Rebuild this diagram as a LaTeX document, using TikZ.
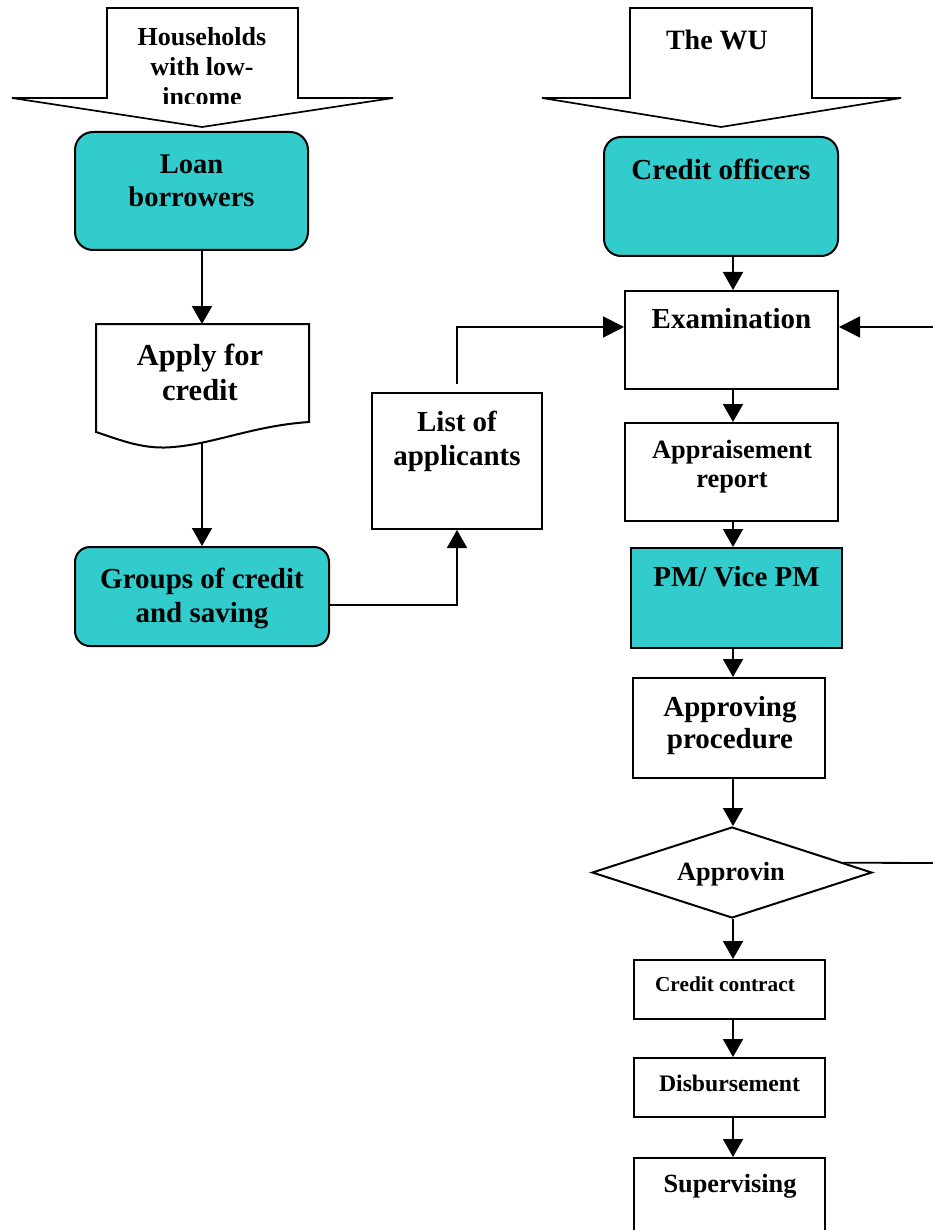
\documentclass[tikz,border=0pt]{standalone}
\usepackage{fontspec}
\setmainfont{Liberation Serif}
\usetikzlibrary{arrows.meta,shapes.geometric,calc}
\definecolor{tealfill}{RGB}{51,204,204}
\begin{document}
\begin{tikzpicture}[x=1pt,y=-1pt,
  txt/.style 2 args={font=\bfseries\fontsize{#1pt}{#2pt}\selectfont, align=center, inner sep=0pt},
  pbox/.style={draw, line width=2pt, fill=white, inner sep=0pt},
  tbox/.style={pbox, fill=tealfill},
  blockarrow/.style={draw, line width=1.7pt, fill=white, line join=miter},
  arr/.style={draw, line width=1.8pt, -{Triangle[width=20pt,length=18pt]}},
  arrw/.style={draw, line width=1.8pt, -{Triangle[width=21pt,length=21pt]}}]
\useasboundingbox (0,0) rectangle (933,1230);
\clip (0,0) rectangle (933,1230);
\fill[white] (0,0) rectangle (933,1230);

\coordinate (colL) at (202,0);
\coordinate (colR) at (733,0);

% block arrows
\draw[blockarrow] (107,8) -- (298,8) -- (298,98) -- (393,98) -- (202,127) -- (12,98) -- (107,98) -- cycle;
\begin{scope}
  \clip (107,8) rectangle (298,104);
  \node[txt={26}{30}] (house) at (202,67) {Households\\with low-\\income};
\end{scope}
\draw[blockarrow] (630,8) -- (812,8) -- (812,98) -- (901,98) -- (721,127) -- (542,98) -- (630,98) -- cycle;
\node[txt={28}{32}] (wu) at (717,40) {The WU};

% left column
\node[tbox, rounded corners=18pt, minimum width=233pt, minimum height=118pt] (loan) at (191.5,191) {};
\node[txt={28.5}{33}] (loant) at (191.5,181) {Loan\\borrowers};

\draw[pbox] (96,324) -- (309,324) -- (309,422)
  .. controls (250,426) and (210,446) .. (165,447.5)
  .. controls (140,448) and (120,440) .. (96,432) -- cycle;
\node[txt={30.5}{35}] (apply) at (200,372) {Apply for\\credit};
\coordinate (applyt) at (202,324);
\coordinate (applyb) at (202,443);

\node[tbox, rounded corners=15pt, minimum width=254pt, minimum height=99pt] (groups) at (202,596.5) {};
\node[txt={29}{34}] (groupst) at (202,598) {Groups of credit\\and saving};

\node[pbox, minimum width=170pt, minimum height=136pt] (list) at (457,461) {};
\node[txt={29}{34}] (listt) at (457,441) {List of\\applicants};

% right column
\node[tbox, rounded corners=17pt, minimum width=234pt, minimum height=119pt] (officers) at (721,196.5) {};
\node[txt={29}{33}] (officerst) at (721,169) {Credit officers};

\node[pbox, minimum width=213pt, minimum height=98pt] (exam) at (731.5,340) {};
\node[txt={29}{33}] (examt) at (731.5,319) {Examination};

\node[pbox, minimum width=213pt, minimum height=98pt] (appr) at (731.5,472) {};
\node[txt={26.4}{29}] (apprt) at (732,467) {Appraisement\\report};

\node[tbox, minimum width=211pt, minimum height=100pt] (pm) at (736.5,598) {};
\node[txt={29}{33}] (pmt) at (736.5,577) {PM/ Vice PM};

\node[pbox, minimum width=192pt, minimum height=100pt] (appp) at (729,728) {};
\node[txt={29}{32}] (apppt) at (730,726) {Approving\\procedure};

\node[draw, line width=2pt, fill=white, shape=diamond, shape aspect=3, inner sep=0pt,
      minimum width=280pt, minimum height=91pt] (dia) at (732,872.5) {};
\node[txt={26.3}{30}] (diat) at (731,874) {Approvin};

\node[pbox, minimum width=191pt, minimum height=59pt] (contract) at (729.5,989.5) {};
\node[txt={21.3}{25}] (contractt) at (725,984) {Credit contract};

\node[pbox, minimum width=191pt, minimum height=59pt] (disb) at (729.5,1087.5) {};
\node[txt={23.7}{27}] (disbt) at (729.5,1083) {Disbursement};

\node[pbox, minimum width=191pt, minimum height=142pt] (sup) at (729.5,1229) {};
\node[txt={26.3}{30}] (supt) at (730,1186) {Supervising};

% connectors left
\draw[arr] (loan.south -| colL) -- (applyt);
\draw[arr] (applyb) -- (groups.north -| colL);
\draw[arr] ([yshift=-8.5pt]groups.east) -| (list.south);
\draw[arrw] ([yshift=8pt]list.north) |- ([yshift=13pt]exam.west);

% connectors right
\coordinate (rin) at (940,327);
\draw[arrw] (rin) -- ([yshift=13pt]exam.east);
\draw[arr] (officers.south -| colR) -- (exam.north -| colR);
\draw[arr] (exam.south -| colR) -- (appr.north -| colR);
\draw[arr] (appr.south -| colR) -- (pm.north -| colR);
\draw[arr] (pm.south -| colR) -- (appp.north -| colR);
\draw[arr] (appp.south -| colR) -- (dia.north -| colR);
\draw[arr] (dia.south -| colR) -- (contract.north -| colR);
\draw[arr] (contract.south -| colR) -- (disb.north -| colR);
\draw[arr] (disb.south -| colR) -- (sup.north -| colR);
\coordinate (diaout) at ($(dia.north)!0.79!(dia.east)$);
\coordinate (rout) at (940,863);
\draw[line width=1.8pt] (diaout) -- (rout);
\end{tikzpicture}
\end{document}
